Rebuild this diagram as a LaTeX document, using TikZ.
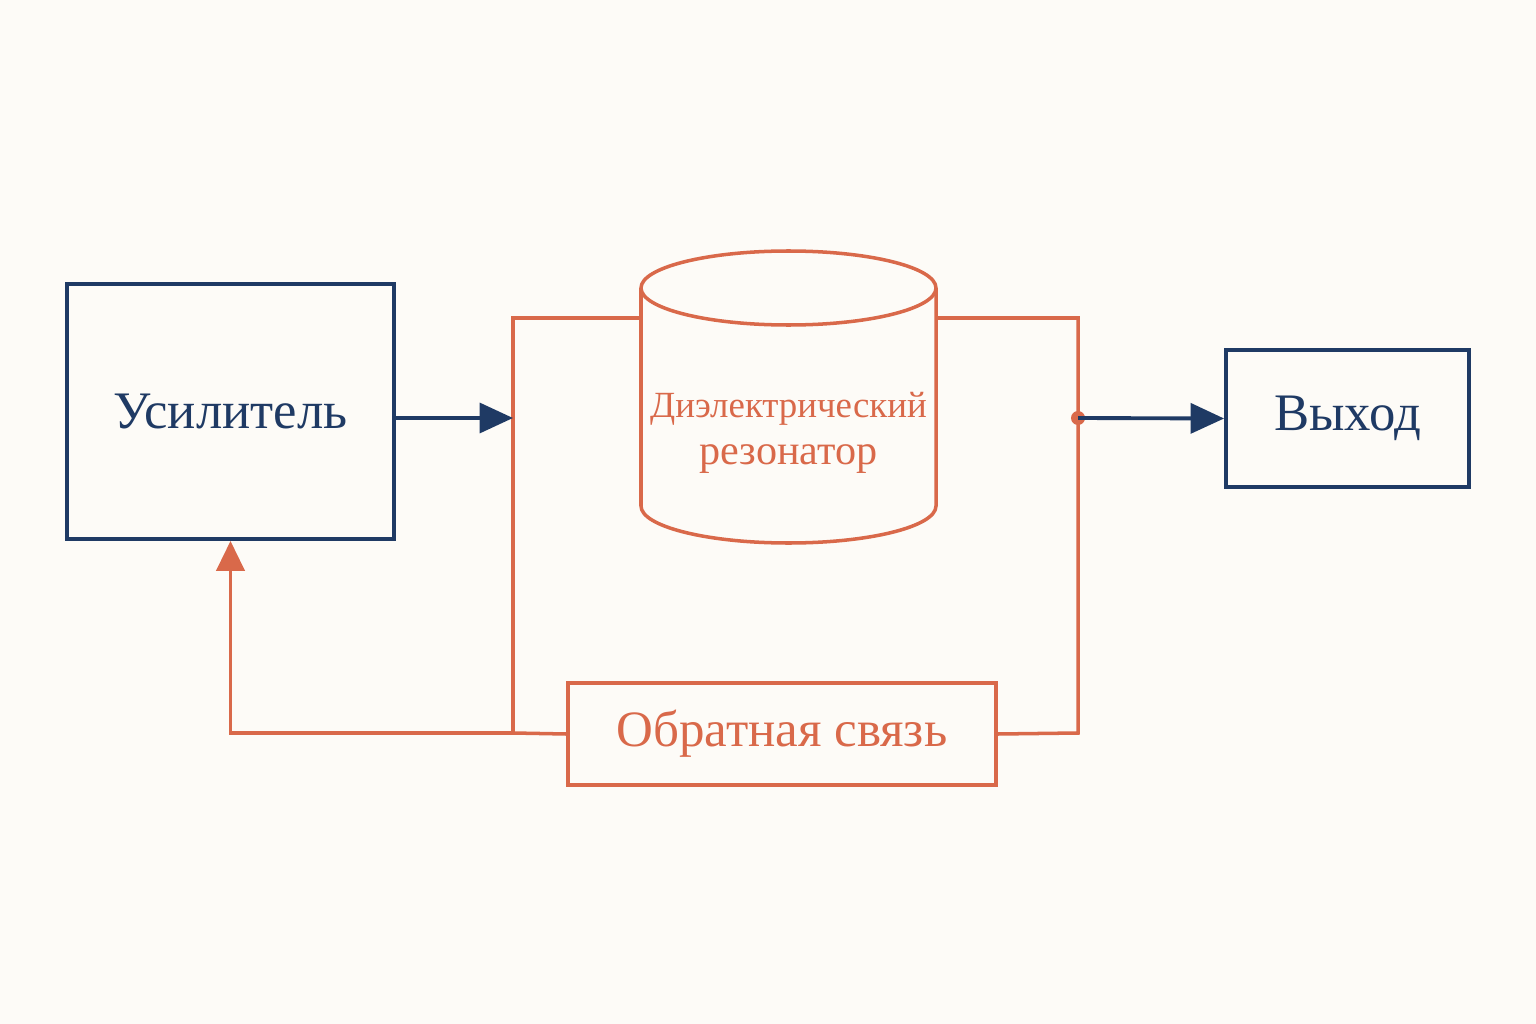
\documentclass[tikz,border=0pt]{standalone}
\usepackage{fontspec}
\setmainfont{Liberation Serif}
\usetikzlibrary{arrows.meta,positioning}
\definecolor{navy}{HTML}{1F3A64}
\definecolor{rust}{HTML}{D9694A}
\definecolor{paper}{HTML}{FDFBF7}
\tikzset{
  blk/.style={draw=navy,line width=2.2pt,text=navy,font=\fontsize{30}{34}\selectfont},
  fb/.style={draw=rust,line width=2pt},
  sig/.style={draw=navy,line width=2.2pt,-{Triangle[length=19pt,width=17pt]}},
}
\begin{document}
\begin{tikzpicture}[x=0.02cm,y=-0.02cm]
  \fill[paper] (0,0) rectangle (1536,1024);
  \useasboundingbox (0,0) rectangle (1536,1024);
  % blocks
  \node[blk,minimum width=327*0.02cm,minimum height=255*0.02cm] (amp) at (230.5,411.5) {Усилитель};
  \node[blk,minimum width=243*0.02cm,minimum height=137*0.02cm] (out) at (1347.5,418.5) {Выход};
  \node[fb,text=rust,font=\fontsize{29}{34}\selectfont,minimum width=428*0.02cm,minimum height=102*0.02cm] (fbk) at (782,734) {Обратная связь};
  % resonator
  \draw[fb,fill=paper] (641,288) -- (641,506) arc[start angle=180,end angle=0,x radius=147.5,y radius=37] -- (936,288);
  \draw[fb] (788.5,288) ellipse[x radius=147.5,y radius=37];
  \node[text=rust,font=\fontsize{21}{27}\selectfont,align=center] (res) at (788.5,433)
    {Диэлектрический\\{\fontsize{24}{27}\selectfont резонатор}};
  % frame
  \coordinate (tl) at (513,318);
  \coordinate (tr) at (1078,318);
  \coordinate (bl) at (513,733);
  \coordinate (br) at (1078,733);
  \coordinate (in) at (513,418);
  \coordinate (tap) at (1078,418);
  \draw[fb] (641,318) -- (tl) -- (bl) -- (fbk.west);
  \draw[fb] (936,318) -- (tr) -- (br) -- (fbk.east);
  \draw[fb,-{Triangle[length=17pt,width=16pt]}] (bl) -| (amp.south);
  \fill[rust] (tap) circle[radius=7];
  \draw[sig] (amp.east |- in) -- (in);
  \draw[sig] (tap) -- (out.west);
\end{tikzpicture}
\end{document}
